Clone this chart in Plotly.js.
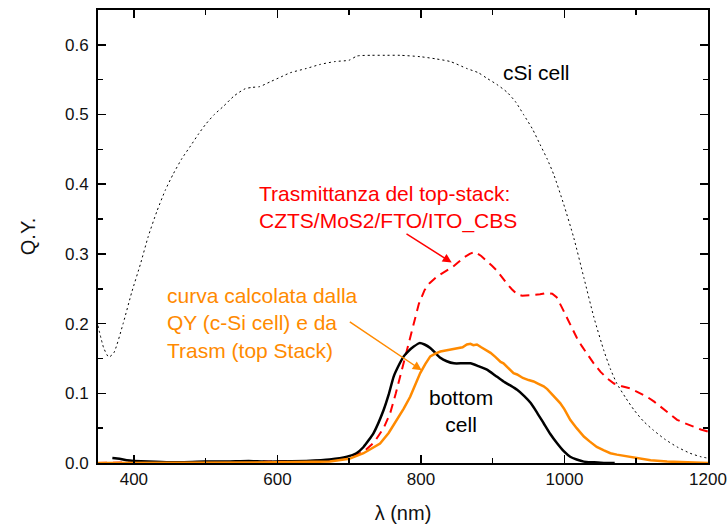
<!DOCTYPE html>
<html>
<head>
<meta charset="utf-8">
<script src="https://cdn.plot.ly/plotly-3.0.1.min.js"></script>
<style>
  html, body { margin: 0; padding: 0; background: #fff; }
  #plot { width: 727px; height: 529px; }
</style>
</head>
<body>
<div id="plot"></div>
<script>
// Quantum yield of the c-Si cell, top-stack transmittance and the bottom-cell response
const csiWl = [350, 358, 365, 372, 385, 397, 409, 420, 432, 444, 455, 467, 479, 490, 500, 512, 525, 540, 555, 565, 575, 590, 605, 618, 640, 660, 680, 700, 711, 730, 750, 771, 799, 820, 841, 864, 880, 892, 906, 920, 932, 943, 955, 966, 976, 985, 999, 1013, 1027, 1041, 1055, 1064, 1073, 1085, 1097, 1110, 1124, 1140, 1157, 1175, 1190, 1200];
const csiQY = [0.197, 0.165, 0.152, 0.158, 0.200, 0.245, 0.285, 0.325, 0.361, 0.392, 0.415, 0.437, 0.455, 0.472, 0.486, 0.500, 0.512, 0.527, 0.537, 0.539, 0.540, 0.547, 0.554, 0.560, 0.566, 0.572, 0.576, 0.578, 0.584, 0.585, 0.585, 0.585, 0.583, 0.580, 0.576, 0.566, 0.560, 0.552, 0.543, 0.532, 0.518, 0.500, 0.480, 0.457, 0.436, 0.414, 0.371, 0.323, 0.266, 0.209, 0.161, 0.135, 0.114, 0.094, 0.076, 0.060, 0.047, 0.034, 0.023, 0.014, 0.009, 0.007];

const trWl = [350, 400, 500, 600, 650, 680, 700, 720, 735, 748, 757, 765, 774, 782, 790, 797, 805, 812, 823, 835, 845, 852, 860, 868, 875, 884, 892, 899, 906, 913, 920, 927, 934, 941, 948, 957, 966, 975, 983, 989, 996, 1003, 1010, 1017, 1024, 1031, 1040, 1050, 1060, 1069, 1080, 1092, 1103, 1115, 1125, 1134, 1145, 1157, 1168, 1180, 1190, 1200];
const trVal = [0, 0.001, 0.001, 0.002, 0.003, 0.005, 0.008, 0.016, 0.030, 0.050, 0.071, 0.100, 0.135, 0.170, 0.200, 0.228, 0.248, 0.258, 0.268, 0.276, 0.282, 0.288, 0.295, 0.300, 0.303, 0.297, 0.290, 0.283, 0.276, 0.266, 0.257, 0.249, 0.242, 0.240, 0.240, 0.241, 0.242, 0.244, 0.243, 0.238, 0.224, 0.209, 0.195, 0.180, 0.168, 0.157, 0.144, 0.131, 0.121, 0.114, 0.110, 0.107, 0.101, 0.095, 0.088, 0.081, 0.072, 0.062, 0.057, 0.052, 0.048, 0.045];

const botWl = [370, 380, 390, 400, 420, 450, 500, 530, 560, 580, 600, 640, 673, 697, 710, 720, 734, 748, 755, 762, 770, 776, 783, 790, 798, 805, 813, 820, 827, 836, 846, 858, 869, 880, 892, 903, 915, 925, 934, 944, 953, 962, 971, 980, 990, 999, 1008, 1017, 1027, 1040, 1055, 1070];
const botQY = [0.007, 0.006, 0.004, 0.003, 0.002, 0.001, 0.002, 0.002, 0.003, 0.002, 0.002, 0.003, 0.005, 0.009, 0.014, 0.023, 0.043, 0.076, 0.098, 0.124, 0.142, 0.153, 0.161, 0.167, 0.172, 0.170, 0.165, 0.158, 0.151, 0.146, 0.143, 0.143, 0.143, 0.139, 0.134, 0.126, 0.117, 0.111, 0.105, 0.096, 0.086, 0.072, 0.057, 0.042, 0.028, 0.017, 0.009, 0.005, 0.002, 0.001, 0, 0];

const calcWl = [350, 400, 500, 600, 673, 700, 720, 743, 755, 767, 776, 785, 792, 799, 806, 813, 820, 827, 838, 850, 858, 864, 869, 873, 878, 884, 890, 897, 904, 911, 915, 922, 929, 934, 942, 950, 957, 963, 971, 976, 983, 990, 994, 1000, 1008, 1017, 1027, 1035, 1045, 1055, 1064, 1073, 1085, 1097, 1120, 1143, 1170, 1200];
const calcQY = [0, 0, 0.001, 0.001, 0.002, 0.006, 0.014, 0.028, 0.043, 0.062, 0.078, 0.095, 0.112, 0.129, 0.142, 0.153, 0.157, 0.160, 0.162, 0.165, 0.166, 0.170, 0.171, 0.169, 0.170, 0.166, 0.162, 0.158, 0.152, 0.145, 0.143, 0.136, 0.129, 0.127, 0.122, 0.119, 0.117, 0.114, 0.110, 0.106, 0.098, 0.091, 0.086, 0.077, 0.062, 0.050, 0.038, 0.031, 0.023, 0.018, 0.014, 0.012, 0.010, 0.007, 0.004, 0.002, 0.001, 0];

const FONT = 'Liberation Sans, Arial, sans-serif';
const ORANGE = '#ff8a00';
const RED = '#ff0000';

const traces = [
  { x: csiWl, y: csiQY, mode: 'lines', name: 'cSi cell',
    line: { color: '#000', width: 1, dash: '2px,3px', shape: 'spline', smoothing: 0.6 } },
  { x: trWl, y: trVal, mode: 'lines', name: 'Trasmittanza',
    line: { color: RED, width: 2, dash: '9px,6px' } },
  { x: botWl, y: botQY, mode: 'lines', name: 'bottom cell',
    line: { color: '#000', width: 2.5, shape: 'spline', smoothing: 0.5 } },
  { x: calcWl, y: calcQY, mode: 'lines', name: 'curva calcolata',
    line: { color: ORANGE, width: 2.5 } }
];

const axisCommon = {
  showline: true, linecolor: '#000', linewidth: 2, mirror: 'allticks',
  ticks: 'inside', ticklen: 8, tickwidth: 1.5, tickcolor: '#000',
  showgrid: false, zeroline: false,
  tickfont: { family: FONT, size: 17, color: '#111' }
};

const layout = {
  width: 727, height: 529,
  margin: { l: 98, r: 19, t: 10, b: 66 },
  paper_bgcolor: '#fff', plot_bgcolor: '#fff',
  showlegend: false,
  font: { family: FONT },
  xaxis: Object.assign({}, axisCommon, {
    range: [350, 1200], tickvals: [400, 600, 800, 1000, 1200],
    minor: { tickvals: [500, 700, 900, 1100], ticks: 'inside', ticklen: 5, tickwidth: 1.5, tickcolor: '#000' },
    title: { text: 'λ (nm)', font: { family: FONT, size: 20, color: '#111' }, standoff: 18 }
  }),
  yaxis: Object.assign({}, axisCommon, {
    range: [0, 0.65], tickvals: [0, 0.1, 0.2, 0.3, 0.4, 0.5, 0.6], tickformat: '.1f',
    ticklabelstandoff: 4,
    minor: { tickvals: [0.05, 0.15, 0.25, 0.35, 0.45, 0.55], ticks: 'inside', ticklen: 5, tickwidth: 1.5, tickcolor: '#000' },
    title: { text: 'Q.Y.', font: { family: FONT, size: 20, color: '#111' }, standoff: 24 }
  }),
  annotations: [
    { x: 961, y: 0.56, xref: 'x', yref: 'y', text: 'cSi cell', showarrow: false,
      xanchor: 'center', yanchor: 'middle', font: { family: FONT, size: 21, color: '#000' } },
    { x: 571, y: 0.367, xref: 'x', yref: 'y', showarrow: false, align: 'left',
      text: 'Trasmittanza del top-stack:<br>CZTS/MoS2/FTO/ITO_CBS',
      xanchor: 'left', yanchor: 'middle', font: { family: FONT, size: 21, color: RED } },
    { x: 842.9, y: 0.2876, ax: 777.8, ay: 0.330, xref: 'x', yref: 'y', axref: 'x', ayref: 'y',
      text: '', showarrow: true, arrowhead: 2, arrowsize: 1.2, arrowwidth: 1.5, arrowcolor: RED },
    { x: 443, y: 0.2004, xref: 'x', yref: 'y', showarrow: false, align: 'left',
      text: 'curva calcolata dalla<br>QY (c-Si cell) e da<br>Trasm (top Stack)',
      xanchor: 'left', yanchor: 'middle', font: { family: FONT, size: 21, color: ORANGE } },
    { x: 801.1, y: 0.133, ax: 698.8, ay: 0.204, xref: 'x', yref: 'y', axref: 'x', ayref: 'y',
      text: '', showarrow: true, arrowhead: 2, arrowsize: 1.2, arrowwidth: 1.5, arrowcolor: ORANGE },
    { x: 856, y: 0.074, xref: 'x', yref: 'y', showarrow: false, align: 'center',
      text: 'bottom<br>cell',
      xanchor: 'center', yanchor: 'middle', font: { family: FONT, size: 21, color: '#000' } }
  ]
};

Plotly.newPlot('plot', traces, layout, { staticPlot: true, displayModeBar: false });
</script>
</body>
</html>
